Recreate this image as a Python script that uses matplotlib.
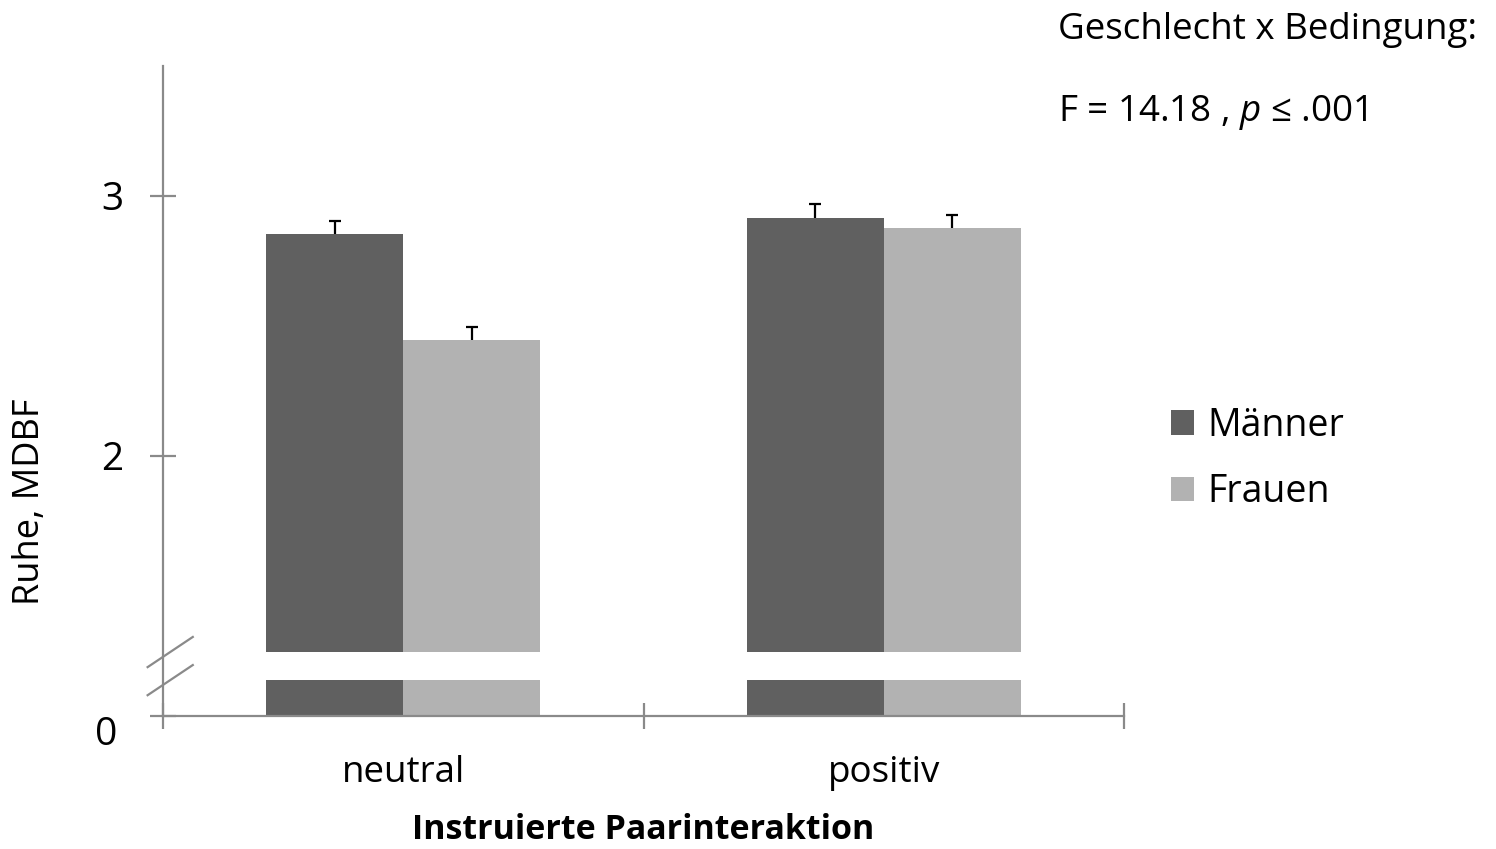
import numpy as np
import matplotlib
matplotlib.use('Agg')
import matplotlib.pyplot as plt

# --- DATA ---
conditions = ['neutral', 'positiv']
groups = ['Männer', 'Frauen']
men_means = [2.853, 2.916]
men_err = [0.051, 0.052]
women_means = [2.447, 2.876]
women_err = [0.051, 0.052]
y_ticks = [2, 3]
y_ticklabels = ['2', '3']

# --- STYLE ---
FONT = 'Open Sans'
plt.rcParams['font.family'] = [FONT, 'DejaVu Sans']
plt.rcParams['mathtext.fontset'] = 'custom'
plt.rcParams['mathtext.rm'] = FONT
plt.rcParams['mathtext.it'] = FONT + ':italic'

DARK = '#606060'
LIGHT = '#b2b2b2'
AXIS_COLOR = '#8a8a8a'

# broken axis: bottom of axes shows "0", upper bars start above the break
AXIS_ZERO = 1.0
BREAK_LO = 1.138
BREAK_HI = 1.246

fig = plt.figure(figsize=(14.96, 8.49), dpi=100)
ax = fig.add_axes([163 / 1496, 1 - 716 / 849, 961 / 1496, 650 / 849])

x = np.arange(len(conditions)) + 0.5
width = 0.285
off = width / 2

men = np.array(men_means)
women = np.array(women_means)

ax.bar(x - off, men - BREAK_HI, bottom=BREAK_HI, width=width, color=DARK, label=groups[0])
ax.bar(x + off, women - BREAK_HI, bottom=BREAK_HI, width=width, color=LIGHT, label=groups[1])
ax.bar(x - off, BREAK_LO - AXIS_ZERO, bottom=AXIS_ZERO, width=width, color=DARK)
ax.bar(x + off, BREAK_LO - AXIS_ZERO, bottom=AXIS_ZERO, width=width, color=LIGHT)

# upper error bars only
zeros = np.zeros(len(conditions))
for pos, vals, errs in [(x - off, men, men_err), (x + off, women, women_err)]:
    eb = ax.errorbar(pos, vals, yerr=[zeros, errs], fmt='none', ecolor='black',
                     elinewidth=1.6, capsize=4.5, capthick=1.6)
    eb[1][0].set_visible(False)

ax.set_xlim(0, len(conditions))
ax.set_ylim(AXIS_ZERO, 3.5)

for side in ['top', 'right']:
    ax.spines[side].set_visible(False)
for side in ['left', 'bottom']:
    ax.spines[side].set_color(AXIS_COLOR)
    ax.spines[side].set_linewidth(1.6)

# x ticks at category borders, labels at centers
ax.set_xticks(np.arange(len(conditions) + 1))
ax.set_xticklabels([])
ax.set_xticks(x, minor=True)
ax.set_xticklabels(conditions, minor=True, fontsize=26.5)
ax.tick_params(axis='x', which='major', direction='inout', length=19, width=1.6, color=AXIS_COLOR)
ax.tick_params(axis='x', which='minor', length=0, pad=28)

ax.set_yticks([AXIS_ZERO] + y_ticks)
ax.set_yticklabels([''] + y_ticklabels, fontsize=28)
ax.tick_params(axis='y', direction='inout', length=19, width=1.6, color=AXIS_COLOR, pad=19)
ax.annotate('0', xy=(0, AXIS_ZERO), xycoords=('axes fraction', 'data'),
            xytext=(-41, -14), textcoords='offset points',
            ha='center', va='center', fontsize=28)

# break marks on the y axis
trans = ax.get_yaxis_transform()
for yb in [BREAK_HI, BREAK_LO]:
    ax.plot([-0.016, 0.031], [yb - 0.058, yb + 0.058], transform=trans,
            color=AXIS_COLOR, lw=1.6, clip_on=False)

ax.set_xlabel('Instruierte Paarinteraktion', fontsize=24.5, fontweight='bold', labelpad=16)
fig.text(30 / 1496, 1 - 502 / 849, 'Ruhe, MDBF', rotation=90, ha='center', va='center', fontsize=26)

fig.text(1058 / 1496, 1 - 30 / 849, 'Geschlecht x Bedingung:', ha='left', va='center', fontsize=26.5)
fig.text(1058 / 1496, 1 - 112 / 849, r'F = 14.18 , $p$ ≤ .001', ha='left', va='center', fontsize=26.5)

ax.legend(loc='center left', bbox_to_anchor=(1171 / 1496, 1 - 459 / 849),
          bbox_transform=fig.transFigure, frameon=False, fontsize=27,
          handlelength=0.62, handleheight=0.62, handletextpad=0.35,
          labelspacing=0.76, borderpad=0, borderaxespad=0)

plt.savefig('out.png', dpi=100)
